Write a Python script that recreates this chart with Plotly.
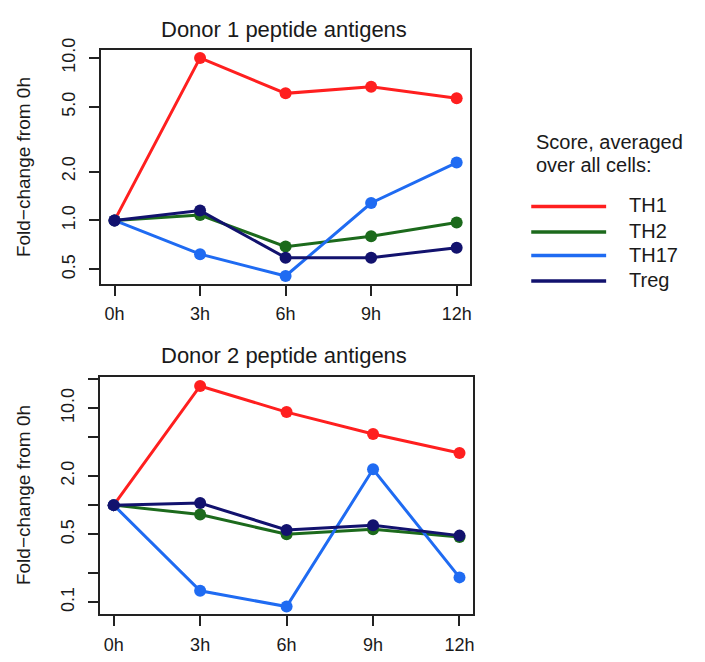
import plotly.graph_objects as go

times = ["0h", "3h", "6h", "9h", "12h"]
series_names = ["TH1", "TH2", "TH17", "Treg"]
colors = ["#FF1F1F", "#1C6A1C", "#1F6BF2", "#12126E"]

donor1 = {
    "TH1":  [1.0, 10.0, 6.05, 6.65, 5.65],
    "TH2":  [1.0, 1.08, 0.69, 0.80, 0.97],
    "TH17": [1.0, 0.62, 0.455, 1.28, 2.27],
    "Treg": [1.0, 1.15, 0.59, 0.59, 0.68],
}
donor2 = {
    "TH1":  [1.0, 16.9, 9.1, 5.4, 3.45],
    "TH2":  [1.0, 0.80, 0.50, 0.565, 0.47],
    "TH17": [1.0, 0.131, 0.090, 2.34, 0.18],
    "Treg": [1.0, 1.05, 0.555, 0.62, 0.485],
}

top_tickvals = [0.5, 1, 2, 5, 10]
top_ticktext = ["0.5", "1.0", "2.0", "5.0", "10.0"]
bot_tickvals = [0.1, 0.2, 0.5, 1, 2, 5, 10, 20]
bot_ticktext = ["0.1", "", "0.5", "", "2.0", "", "10.0", ""]

titles = ["Donor 1 peptide antigens", "Donor 2 peptide antigens"]
ytitle = "Fold\u2212change from 0h"
legend_title = ["Score, averaged", "over all cells:"]

W, H = 705, 662
FONT = "Liberation Sans, Arial, Helvetica, sans-serif"
TXT = "#1a1a1a"

fig = go.Figure()

for data, xa, ya in [(donor1, "x", "y"), (donor2, "x2", "y2")]:
    for name, col in zip(series_names, colors):
        fig.add_trace(go.Scatter(
            x=times, y=data[name], mode="lines+markers", name=name,
            xaxis=xa, yaxis=ya, showlegend=False,
            line=dict(color=col, width=3),
            marker=dict(color=col, size=12),
        ))

def px(x):
    return x / W

def py(y):
    return 1 - y / H

axis_common = dict(
    showline=True, mirror=True, linecolor="#222", linewidth=1.6,
    ticks="outside", ticklen=10, tickwidth=1.5, tickcolor="#222",
    showgrid=False, zeroline=False,
    tickfont=dict(family=FONT, size=18, color=TXT),
)

fig.update_layout(
    width=W, height=H,
    margin=dict(l=0, r=0, t=0, b=0),
    paper_bgcolor="white", plot_bgcolor="white",
    showlegend=False,
    xaxis=dict(domain=[px(101), px(471)], anchor="y", type="category",
               range=[-0.16, 4.16], ticklabelstandoff=3, **axis_common),
    yaxis=dict(domain=[py(277), py(38.3)], anchor="x", type="log",
               range=[-0.391, 1.051], tickvals=top_tickvals, ticktext=top_ticktext,
               tickangle=-90, ticklabelstandoff=7, **axis_common),
    xaxis2=dict(domain=[px(100), px(474)], anchor="y2", type="category",
                range=[-0.16, 4.16], ticklabelstandoff=3, **axis_common),
    yaxis2=dict(domain=[py(613.3), py(371.7)], anchor="x2", type="log",
                range=[-1.124, 1.321], tickvals=bot_tickvals, ticktext=bot_ticktext,
                tickangle=-90, ticklabelstandoff=7, **axis_common),
)

ann = []
# subplot titles
ann.append(dict(text=titles[0], x=px(284), y=py(18), xref="paper", yref="paper",
                showarrow=False, xanchor="center", yanchor="middle",
                font=dict(family=FONT, size=22, color=TXT)))
ann.append(dict(text=titles[1], x=px(284), y=py(350), xref="paper", yref="paper",
                showarrow=False, xanchor="center", yanchor="middle",
                font=dict(family=FONT, size=22, color=TXT)))
# y axis titles
for yc in [158, 492]:
    ann.append(dict(text=ytitle, x=px(23), y=py(yc), xref="paper", yref="paper",
                    showarrow=False, xanchor="center", yanchor="middle", textangle=-90,
                    font=dict(family=FONT, size=19, color=TXT)))
# legend title
for i, t in enumerate(legend_title):
    ann.append(dict(text=t, x=px(535), y=py(132 + 24 * i), xref="paper", yref="paper",
                    showarrow=False, xanchor="left", yanchor="middle",
                    font=dict(family=FONT, size=20, color=TXT)))

shapes = []
leg_y = [198, 224, 248, 274]
for name, col, ly in zip(series_names, colors, leg_y):
    shapes.append(dict(type="line", xref="paper", yref="paper",
                       x0=px(532), x1=px(607), y0=py(ly), y1=py(ly),
                       line=dict(color=col, width=3.5)))
    ann.append(dict(text=name, x=px(628), y=py(ly - 1), xref="paper", yref="paper",
                    showarrow=False, xanchor="left", yanchor="middle",
                    font=dict(family=FONT, size=20, color=TXT)))

fig.update_layout(annotations=ann, shapes=shapes)

fig.write_html("out.html")
